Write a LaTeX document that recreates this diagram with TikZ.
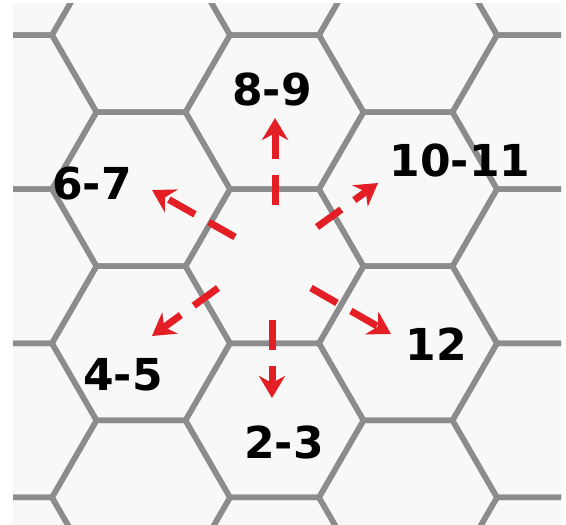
\documentclass[tikz,border=0pt]{standalone}
\usepackage{fontspec}
\setmainfont{DejaVu Sans}
\usetikzlibrary{arrows.meta}
\definecolor{hexgray}{HTML}{8C8C8C}
\definecolor{arrowred}{HTML}{E31E24}
\definecolor{paper}{HTML}{F8F8F8}

\begin{document}
\begin{tikzpicture}[x=1pt, y=-1pt,
        hexline/.style={draw=hexgray, line width=5.5pt, line join=round},
        arr/.style={arrowred, line width=7pt, dash pattern=on 30pt off 16pt,
                    -{Stealth[length=22pt, width=26pt, inset=7pt]}},
        lbl/.style={inner sep=0pt, font=\fontsize{44}{48}\selectfont\bfseries}
    ]
        \useasboundingbox (0,0) rectangle (566,525);
        \fill[paper] (13,3) rectangle (561,525);
        \begin{scope}
            \clip (13,3) rectangle (561,525);
            \foreach \k in {0,...,4} {
                \pgfmathsetmacro{\cx}{7.5+133.5*\k}
                \pgfmathsetmacro{\cy}{isodd(\k) ? 35 : 112.1}
                \foreach \j in {-1,...,3}
                    \draw[hexline] (\cx+89, \cy+154.15*\j) -- ++(120:89) -- ++(180:89)
                        -- ++(240:89) -- ++(300:89) -- ++(0:89) -- cycle;
            }
        \end{scope}
        \coordinate (s89) at (275,205);   \coordinate (t89) at (275,118);
        \coordinate (s1011) at (317,227); \coordinate (t1011) at (378,183);
        \coordinate (s12) at (311,288);   \coordinate (t12) at (391,334);
        \coordinate (s23) at (272,320);   \coordinate (t23) at (272,398);
        \coordinate (s45) at (218,288);   \coordinate (t45) at (152,336);
        \coordinate (s67) at (235,237);   \coordinate (t67) at (152,190);
        \node[lbl] (l89) at (272,89) {8-9};
        \node[lbl] (l1011) at (460,160) {10-11};
        \node[lbl] (l12) at (436,344) {12};
        \node[lbl] (l23) at (284,442) {2-3};
        \node[lbl] (l45) at (123,375) {4-5};
        \node[lbl] (l67) at (92,184) {6-7};
        \draw[arr] (s89) -- (t89);
        \draw[arr] (s1011) -- (t1011);
        \draw[arr] (s12) -- (t12);
        \draw[arr] (s23) -- (t23);
        \draw[arr] (s45) -- (t45);
        \draw[arr] (s67) -- (t67);
    \end{tikzpicture}
\end{document}
